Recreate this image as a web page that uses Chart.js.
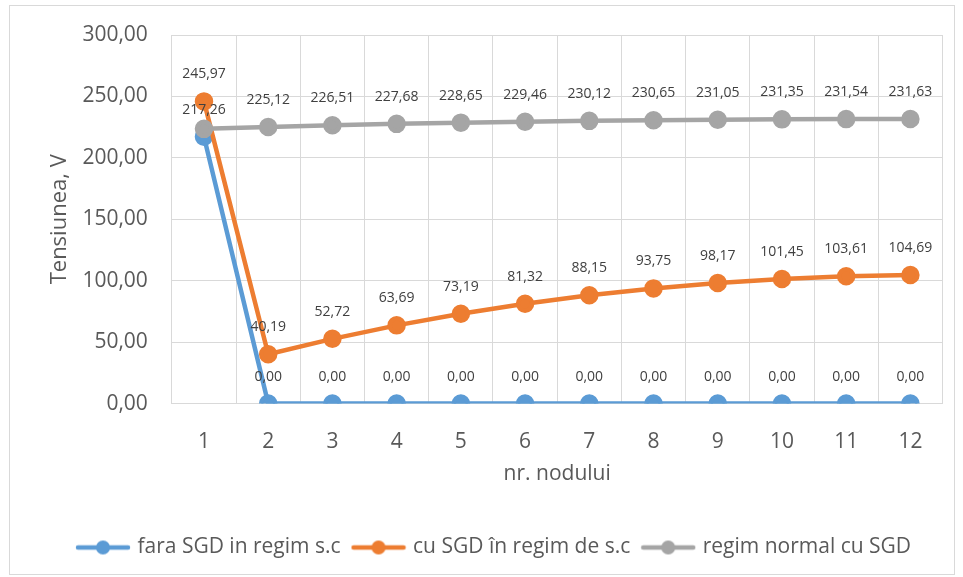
<!DOCTYPE html>
<html>
<head>
<meta charset="utf-8">
<script src="https://cdn.jsdelivr.net/npm/chart.js@4"></script>
<style>
  html, body { margin: 0; padding: 0; background: #fff; }
  #wrap { position: absolute; left: 9px; top: 5px; width: 946px; height: 570px; border: 1px solid #d9d9d9; box-sizing: border-box; }
  canvas { display: block; }
</style>
</head>
<body>
<div id="wrap"><canvas id="chart" width="944" height="568"></canvas></div>
<script>
  // nodes on the x axis
  var nodes = ['1', '2', '3', '4', '5', '6', '7', '8', '9', '10', '11', '12'];

  // voltages, V
  var faraSGD = [217.26, 0, 0, 0, 0, 0, 0, 0, 0, 0, 0, 0];
  var cuSGD = [245.97, 40.19, 52.72, 63.69, 73.19, 81.32, 88.15, 93.75, 98.17, 101.45, 103.61, 104.69];
  var regimNormal = [223.6, 225.12, 226.51, 227.68, 228.65, 229.46, 230.12, 230.65, 231.05, 231.35, 231.54, 231.63];

  var seriesNames = ['fara SGD in regim s.c', 'cu SGD în regim de s.c', 'regim normal cu SGD'];
  var seriesColors = ['#5b9bd5', '#ed7d31', '#a5a5a5'];

  var FONT = '"Open Sans", sans-serif';

  function fmt(v) {
    return v.toFixed(2).replace('.', ',');
  }

  // little line + dot swatch for the legend
  function legendSwatch(color) {
    var c = document.createElement('canvas');
    c.width = 56;
    c.height = 16;
    var g = c.getContext('2d');
    g.strokeStyle = color;
    g.lineWidth = 4.5;
    g.lineCap = 'round';
    g.beginPath();
    g.moveTo(3, 8);
    g.lineTo(53, 8);
    g.stroke();
    g.fillStyle = color;
    g.beginPath();
    g.arc(28, 8, 7, 0, Math.PI * 2);
    g.fill();
    return c;
  }

  // data labels above each point (gray label at node 1 not shown in original)
  var pointLabels = {
    id: 'pointLabels',
    afterDatasetsDraw: function (chart) {
      var ctx = chart.ctx;
      ctx.save();
      ctx.font = '14px ' + FONT;
      ctx.fillStyle = '#404040';
      ctx.textAlign = 'center';
      ctx.textBaseline = 'middle';
      chart.data.datasets.forEach(function (ds, i) {
        var meta = chart.getDatasetMeta(i);
        meta.data.forEach(function (pt, j) {
          if (i === 2 && j === 0) return;
          ctx.fillText(fmt(ds.data[j]), pt.x, pt.y - 27);
        });
      });
      ctx.restore();
    }
  };

  // later series sit on top, like the original
  function makeSet(idx, values) {
    return {
      label: seriesNames[idx],
      data: values,
      order: 3 - idx,
      borderColor: seriesColors[idx],
      backgroundColor: seriesColors[idx],
      borderWidth: 4.5,
      pointRadius: 7,
      pointHoverRadius: 7,
      pointStyle: 'circle',
      tension: 0,
      fill: false
    };
  }

  var ctx = document.getElementById('chart').getContext('2d');
  new Chart(ctx, {
    type: 'line',
    data: {
      labels: nodes,
      datasets: [
        makeSet(0, faraSGD),
        makeSet(1, cuSGD),
        makeSet(2, regimNormal)
      ]
    },
    options: {
      responsive: false,
      animation: false,
      layout: { padding: { left: 37, right: 11, top: 29, bottom: 6 } },
      scales: {
        x: {
          offset: true,
          grid: { offset: true, color: '#d9d9d9', lineWidth: 1, drawTicks: false },
          border: { color: '#d9d9d9' },
          ticks: { color: '#595959', font: { size: 21, family: FONT }, padding: 26 },
          title: { display: true, text: 'nr. nodului', color: '#595959', font: { size: 21, family: FONT }, padding: { top: -19, bottom: 36 } }
        },
        y: {
          min: 0,
          max: 300,
          grid: { color: '#d9d9d9', lineWidth: 1, drawTicks: false },
          border: { display: false },
          afterFit: function (scale) { scale.paddingTop = 0; },
          ticks: {
            stepSize: 50,
            color: '#595959',
            padding: 24,
            font: { size: 21, family: FONT },
            callback: function (v) { return fmt(v); }
          },
          title: { display: true, text: 'Tensiunea, V', color: '#595959', font: { size: 22, family: FONT }, padding: { top: 0, bottom: -15 } }
        }
      },
      plugins: {
        legend: {
          position: 'bottom',
          labels: {
            usePointStyle: true,
            pointStyleWidth: 48,
            color: '#595959',
            font: { size: 21, family: FONT },
            padding: 14,
            generateLabels: function (chart) {
              return chart.data.datasets.map(function (ds, i) {
                return {
                  text: ds.label,
                  pointStyle: legendSwatch(seriesColors[i]),
                  fillStyle: seriesColors[i],
                  strokeStyle: seriesColors[i],
                  lineWidth: 0,
                  hidden: false,
                  datasetIndex: i,
                  fontColor: '#595959'
                };
              });
            }
          }
        },
        tooltip: { enabled: false }
      }
    },
    plugins: [pointLabels]
  });
</script>
</body>
</html>
